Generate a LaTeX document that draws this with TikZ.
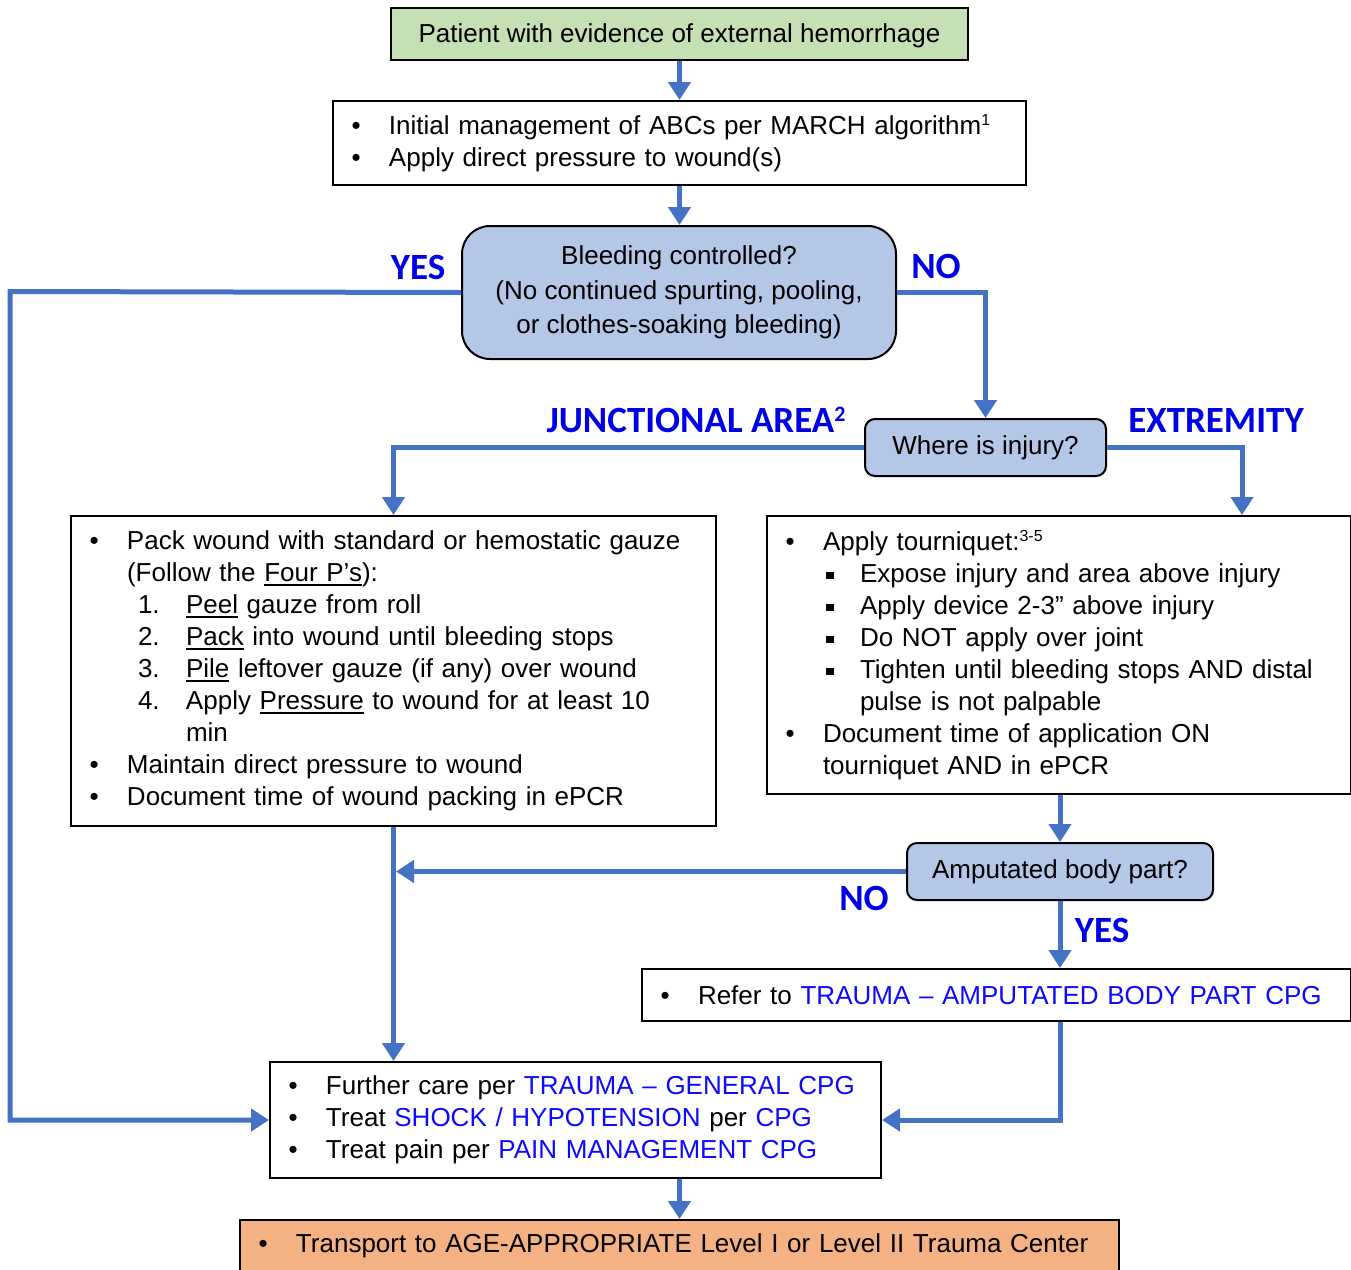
\documentclass[tikz,border=0pt]{standalone}
\usepackage{fontspec}
\setmainfont{Liberation Sans}
\newfontfamily\labfont{Carlito}
\usetikzlibrary{arrows.meta}

\definecolor{flow}{HTML}{4472C4}
\definecolor{greenbox}{HTML}{C5E0B4}
\definecolor{bluebox}{HTML}{B4C7E7}
\definecolor{orangebox}{HTML}{F4B183}
\definecolor{labblue}{RGB}{0,0,230}
\definecolor{linkblue}{RGB}{10,10,255}

% list helpers: bullet slot, continuation indent, numbered items, square sub-bullets
\newcommand\bu{\hspace*{18.5pt}\makebox[37.5pt][l]{•}}
\newcommand\cont{\hspace*{56pt}}
\newcommand\num[1]{\hspace*{67pt}\makebox[48pt][l]{#1}}
\newcommand\sqb{\hspace*{59pt}\makebox[34pt][l]{\rule[3pt]{7.5pt}{7.5pt}}}
\newcommand\undl[1]{\setbox0\hbox{#1}\rlap{\rule[-4pt]{\wd0}{1.8pt}}\box0\relax}
\newcommand\lnk[1]{\textcolor{linkblue}{#1}}
\newcommand\supr[1]{\raisebox{9pt}{\fontsize{16}{16}\selectfont #1}}

\begin{document}
\begin{tikzpicture}[x=1pt,y=-1pt,
  every node/.style={font=\fontsize{26}{32}\selectfont},
  box/.style={draw=black, line width=2pt, anchor=north west, inner sep=0pt, align=left},
  lab/.style={font=\labfont\bfseries\fontsize{37}{37}\selectfont, text=labblue, inner sep=0pt},
  flowarrow/.style={draw=flow, line width=5pt, -{Triangle[width=22pt,length=18pt]}},
]
\useasboundingbox (0,0) rectangle (1351,1269);

% boxes
\node[box, fill=greenbox, minimum width=577pt, minimum height=52pt, align=center,
      text height=19pt, text depth=2pt] (start) at (390,7)
  {Patient with evidence of external hemorrhage};

\node[box, minimum width=693pt, minimum height=84pt, text width=693pt] (abc) at (332,100)
  {\bu Initial management of ABCs per MARCH algorithm\supr{1}\\
   \bu Apply direct pressure to wound(s)};

\node[box, fill=bluebox, rounded corners=28pt, minimum width=434pt, minimum height=133pt,
      align=center, font=\fontsize{26}{34.5}\selectfont] (ctrl) at (461,225)
  {Bleeding controlled?\\(No continued spurting, pooling,\\or clothes-soaking bleeding)};

\node[box, fill=bluebox, rounded corners=10pt, minimum width=241pt, minimum height=57pt, align=center] (where) at (864,418)
  {Where is injury?};

\node[box, minimum width=645pt, minimum height=310pt, text width=645pt] (pack) at (70,515)
  {\bu Pack wound with standard or hemostatic gauze\\
   \cont (Follow the \undl{Four P’s}):\\
   \num{1.}\undl{Peel} gauze from roll\\
   \num{2.}\undl{Pack} into wound until bleeding stops\\
   \num{3.}\undl{Pile} leftover gauze (if any) over wound\\
   \num{4.}Apply \undl{Pressure} to wound for at least 10\\
   \hspace*{115pt}min\\
   \bu Maintain direct pressure to wound\\
   \bu Document time of wound packing in ePCR};

\node[box, minimum width=584pt, minimum height=278pt, text width=584pt] (tq) at (766,515)
  {\bu Apply tourniquet:\supr{3-5}\\
   \sqb Expose injury and area above injury\\
   \sqb Apply device 2-3” above injury\\
   \sqb Do NOT apply over joint\\
   \sqb Tighten until bleeding stops AND distal\\
   \hspace*{93pt}pulse is not palpable\\
   \bu Document time of application ON\\
   \cont tourniquet AND in ePCR};

\node[box, fill=bluebox, rounded corners=10pt, minimum width=306pt, minimum height=57pt, align=center] (amp) at (906,842)
  {Amputated body part?};

\node[box, minimum width=709pt, minimum height=52pt, text width=709pt] (refer) at (641,968)
  {\bu Refer to \lnk{TRAUMA – AMPUTATED BODY PART CPG}};

\node[box, minimum width=611pt, minimum height=116pt, text width=611pt] (care) at (269,1061)
  {\bu Further care per \lnk{TRAUMA – GENERAL CPG}\\
   \bu Treat \lnk{SHOCK / HYPOTENSION} per \lnk{CPG}\\
   \bu Treat pain per \lnk{PAIN MANAGEMENT CPG}};

\node[box, fill=orangebox, minimum width=879pt, minimum height=52pt, text width=879pt] (transport) at (239,1219)
  {\bu Transport to AGE-APPROPRIATE Level I or Level II Trauma Center};

% connectors
\draw[flowarrow] (start.south) -- (abc.north);
\draw[flowarrow] (abc.south) -- (abc.south |- ctrl.north);
\draw[flowarrow] (ctrl.west) -- (10,291.5) |- (care.west);
\draw[flowarrow] (ctrl.east) -| (where.north);
\draw[flowarrow] (where.west) -| (pack.north);
\draw[flowarrow] (where.east) -| ([xshift=183pt]tq.north);
\draw[flowarrow] (amp.north |- tq.south) -- (amp.north);
\draw[flowarrow, shorten >=2.5pt] (amp.west) -- (amp.west -| pack.south);
\draw[flowarrow] (pack.south) -- (pack.south |- care.north);
\draw[flowarrow] (amp.south) -- (amp.south |- refer.north);
\draw[flowarrow] (amp.south |- refer.south) |- (care.east);
\draw[flowarrow] (transport.north |- care.south) -- (transport.north);

% branch labels
\node[lab] (yesA) at (418,267) {YES};
\node[lab] (noA) at (936,266) {NO};
\node[lab] (junc) at (696,420) {JUNCTIONAL AREA\raisebox{11pt}{\fontsize{22}{22}\selectfont 2}};
\node[lab] (ext) at (1216,420) {EXTREMITY};
\node[lab] (noB) at (864,898) {NO};
\node[lab] (yesB) at (1102,930) {YES};
\end{tikzpicture}
\end{document}
